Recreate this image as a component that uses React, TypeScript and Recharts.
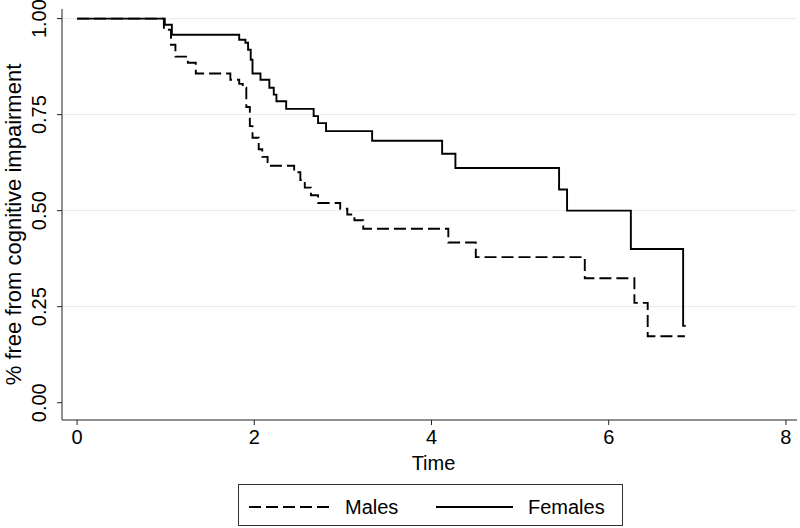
import { LineChart, Line, XAxis, YAxis, ReferenceLine, Label } from "recharts";

// Kaplan-Meier estimates (time in years, survival proportion)
const maleTimes = [0, 0.98, 1.06, 1.11, 1.25, 1.34, 1.73, 1.83, 1.87, 1.91, 1.95, 1.98, 2.05, 2.09, 2.15, 2.45, 2.52, 2.57, 2.64, 2.72, 2.97, 3.05, 3.13, 3.23, 4.19, 4.5, 5.73, 6.29, 6.44, 6.86];
const maleSurv = [1, 0.971, 0.932, 0.901, 0.885, 0.857, 0.841, 0.83, 0.82, 0.77, 0.72, 0.69, 0.66, 0.64, 0.617, 0.6, 0.58, 0.56, 0.54, 0.52, 0.505, 0.49, 0.475, 0.453, 0.417, 0.379, 0.324, 0.26, 0.173, 0.173];

const femaleTimes = [0, 0.99, 1.07, 1.83, 1.9, 1.93, 1.96, 1.98, 2.07, 2.17, 2.22, 2.25, 2.36, 2.67, 2.72, 2.81, 3.33, 4.12, 4.27, 5.44, 5.53, 6.25, 6.84, 6.87];
const femaleSurv = [1, 0.984, 0.958, 0.945, 0.937, 0.919, 0.893, 0.857, 0.841, 0.82, 0.802, 0.785, 0.765, 0.746, 0.728, 0.707, 0.682, 0.648, 0.611, 0.555, 0.5, 0.4, 0.2, 0.2];

const xTicks = [0, 2, 4, 6, 8];
const yTicks = [0, 0.25, 0.5, 0.75, 1];
const gridValues = [0.25, 0.5, 0.75, 1];

const males = maleTimes.map((t, i) => ({ t, s: maleSurv[i] }));
const females = femaleTimes.map((t, i) => ({ t, s: femaleSurv[i] }));

const FONT = "'Liberation Sans', Arial, Helvetica, sans-serif";
const AXIS = "#222";

function YTick({ x, y, payload }: any) {
  const bx = x - 11;
  return (
    <text
      x={bx}
      y={y}
      transform={`rotate(-90 ${bx} ${y})`}
      textAnchor="middle"
      fontSize={20}
      fontFamily={FONT}
      fill="#000"
    >
      {Number(payload.value).toFixed(2)}
    </text>
  );
}

function XTick({ x, y, payload }: any) {
  return (
    <text x={x} y={y + 17} textAnchor="middle" fontSize={20} fontFamily={FONT} fill="#000">
      {payload.value}
    </text>
  );
}

export default function App() {
  return (
    <div style={{ position: "absolute", left: 0, top: 0, width: 800, height: 528, background: "#fff" }}>
      <LineChart width={800} height={528} margin={{ top: 9, right: 3, left: 10, bottom: 58 }}>
        <XAxis
          type="number"
          dataKey="t"
          domain={[-0.17, 8.125]}
          ticks={xTicks}
          allowDataOverflow
          height={50}
          tickSize={5}
          tick={<XTick />}
          stroke={AXIS}
          tickLine={{ stroke: AXIS }}
        >
          <Label
            content={({ viewBox }: any) => (
              <text
                x={viewBox.x + viewBox.width / 2 + 4}
                y={viewBox.y + 50}
                textAnchor="middle"
                fontSize={20}
                fontFamily={FONT}
                fill="#000"
              >
                Time
              </text>
            )}
          />
        </XAxis>
        <YAxis
          type="number"
          dataKey="s"
          domain={[-0.045, 1.025]}
          ticks={yTicks}
          allowDataOverflow
          width={52}
          tickSize={5}
          tickMargin={0}
          tick={<YTick />}
          stroke={AXIS}
          tickLine={{ stroke: AXIS }}
        >
          <Label
            content={({ viewBox }: any) => {
              const lx = viewBox.x + 11;
              const ly = viewBox.y + viewBox.height / 2 + 10;
              return (
                <text
                  x={lx}
                  y={ly}
                  transform={`rotate(-90 ${lx} ${ly})`}
                  textAnchor="middle"
                  fontSize={22}
                  fontFamily={FONT}
                  fill="#000"
                >
                  % free from cognitive impairment
                </text>
              );
            }}
          />
        </YAxis>
        {gridValues.map((v) => (
          <ReferenceLine key={v} y={v} stroke="#e6eff1" strokeWidth={1.2} />
        ))}
        <Line
          data={males}
          dataKey="s"
          type="stepAfter"
          stroke="#000"
          strokeWidth={1.9}
          strokeDasharray="12 5"
          dot={false}
          isAnimationActive={false}
        />
        <Line
          data={females}
          dataKey="s"
          type="stepAfter"
          stroke="#000"
          strokeWidth={1.9}
          dot={false}
          isAnimationActive={false}
        />
      </LineChart>
      <div
        style={{
          position: "absolute",
          left: 238,
          top: 484,
          width: 385,
          height: 42,
          border: "1px solid #333",
          boxSizing: "border-box",
        }}
      >
        <svg width={385} height={42} style={{ position: "absolute", left: 0, top: 0 }}>
          <line x1={10} x2={92} y1={22} y2={22} stroke="#000" strokeWidth={1.9} strokeDasharray="12 5" />
          <text x={106} y={29} fontSize={20} fontFamily={FONT}>Males</text>
          <line x1={197} x2={274} y1={22} y2={22} stroke="#000" strokeWidth={1.9} />
          <text x={289} y={29} fontSize={20} fontFamily={FONT}>Females</text>
        </svg>
      </div>
    </div>
  );
}
